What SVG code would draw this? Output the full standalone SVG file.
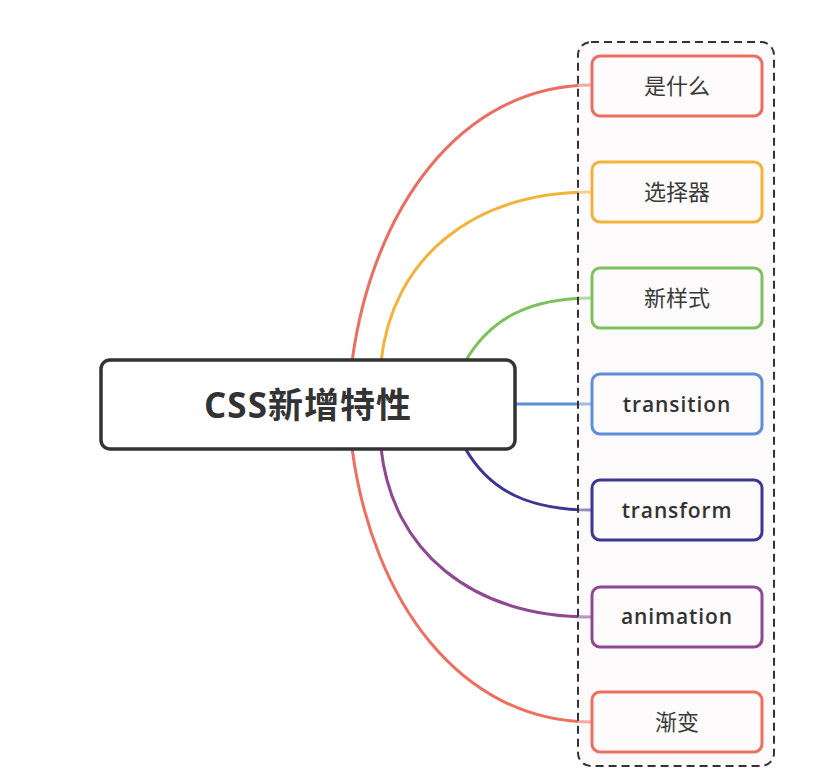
<svg xmlns="http://www.w3.org/2000/svg" width="816" height="779" viewBox="0 0 816 779">
<style>
.conn{fill:none;stroke-width:3;stroke-linecap:round}
.node{fill:#fdfbfc;stroke-width:3}
.lbl{font-family:"Open Sans","Noto Sans CJK SC",sans-serif;font-size:20px;fill:#333;text-anchor:middle;dominant-baseline:central}
.lat{font-weight:600;font-size:21px;letter-spacing:0.9px}
.cjk{font-family:"Noto Sans CJK SC",sans-serif;font-size:22px;fill:#3a3a3a}
</style>
<rect width="816" height="779" fill="#ffffff"/>
<g id="connectors">
<path class="conn" stroke="#eb6e60" d="M352 362 C372 210 460 85 592 85"/>
<path class="conn" stroke="#f3b33a" d="M381 362 C392 260 470 192 592 192"/>
<path class="conn" stroke="#7cc15c" d="M465 362 C490 318 530 298 592 298"/>
<path class="conn" stroke="#5d8fd6" d="M515 404 L592 404"/>
<path class="conn" stroke="#3c3693" d="M465 448 C490 492 530 510 592 510"/>
<path class="conn" stroke="#8d4a92" d="M381 448 C392 550 470 617 592 617"/>
<path class="conn" stroke="#ee6f5d" d="M352 448 C372 600 460 722 592 722"/>
</g>
<g id="group-box">
<rect x="578" y="42" width="196" height="724" rx="13" fill="#fbf4f8" fill-opacity="0.45" stroke="#333" stroke-width="2" stroke-dasharray="8 5"/>
</g>
<g id="root">
<rect x="101" y="360" width="414" height="89" rx="9" fill="#ffffff" stroke="#333" stroke-width="3.5"/>
<text x="308" y="404" font-family="'Open Sans','Noto Sans CJK SC',sans-serif" font-size="35" font-weight="bold" fill="#333" text-anchor="middle" dominant-baseline="central" letter-spacing="1">CSS新增特性</text>
</g>
<g id="n1">
<rect class="node" x="592" y="56" width="170" height="60" rx="8" stroke="#eb6e60"/>
<text class="lbl cjk" x="677" y="84">是什么</text>
</g>
<g id="n2">
<rect class="node" x="592" y="162" width="170" height="60" rx="8" stroke="#f3b33a"/>
<text class="lbl cjk" x="677" y="190">选择器</text>
</g>
<g id="n3">
<rect class="node" x="592" y="268" width="170" height="60" rx="8" stroke="#7cc15c"/>
<text class="lbl cjk" x="677" y="296">新样式</text>
</g>
<g id="n4">
<rect class="node" x="592" y="374" width="170" height="60" rx="8" stroke="#5d8fd6"/>
<text class="lbl lat" x="677" y="404">transition</text>
</g>
<g id="n5">
<rect class="node" x="592" y="480" width="170" height="60" rx="8" stroke="#3c3693"/>
<text class="lbl lat" x="677" y="510">transform</text>
</g>
<g id="n6">
<rect class="node" x="592" y="587" width="170" height="60" rx="8" stroke="#8d4a92"/>
<text class="lbl lat" x="677" y="616">animation</text>
</g>
<g id="n7">
<rect class="node" x="592" y="692" width="170" height="60" rx="8" stroke="#ee6f5d"/>
<text class="lbl cjk" x="677" y="720">渐变</text>
</g>
</svg>
